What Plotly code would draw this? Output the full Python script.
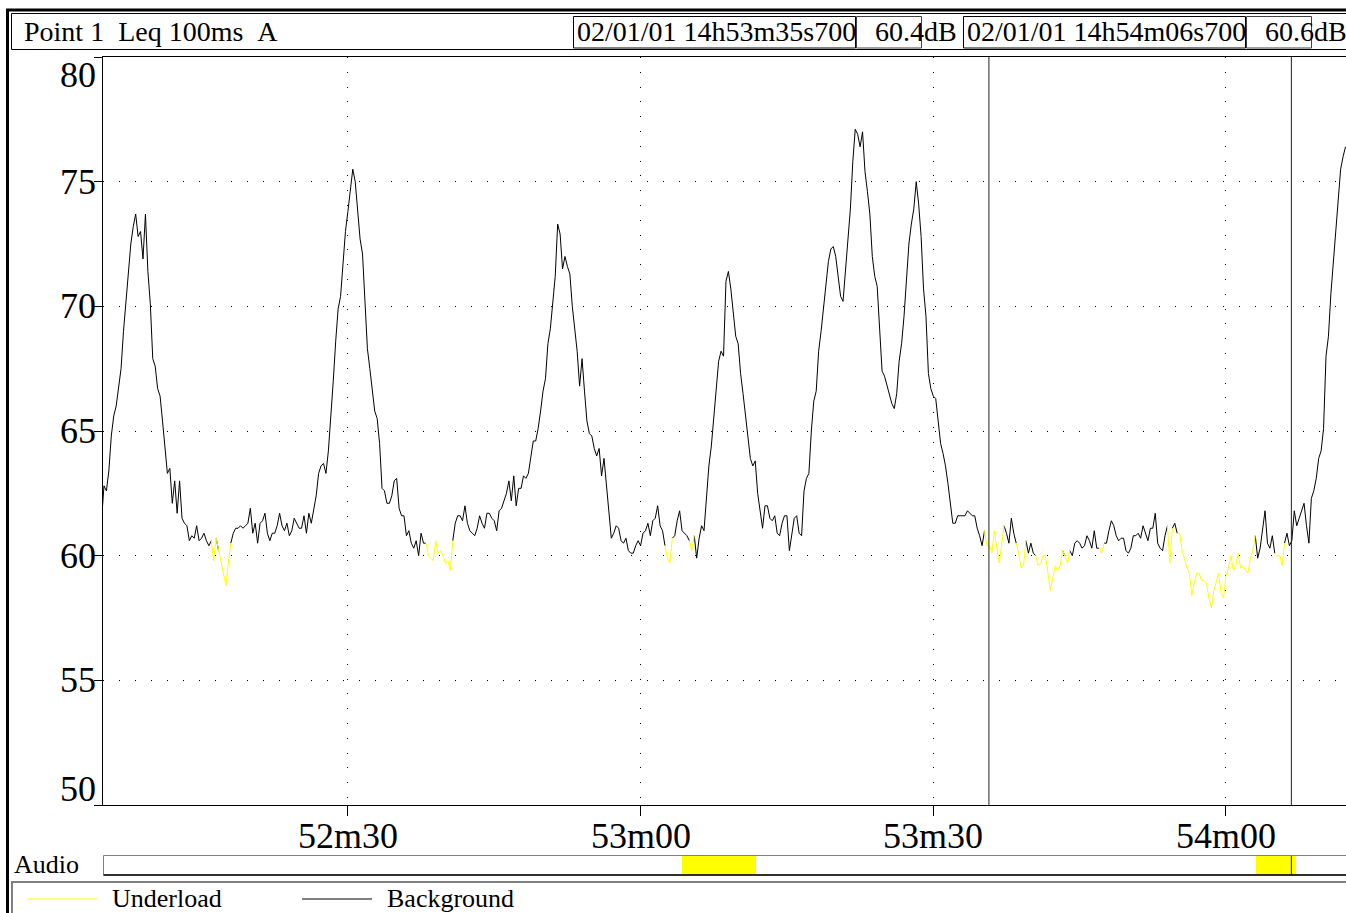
import numpy as np
import plotly.graph_objects as go

# ---------------------------------------------------------------------------
# Leq 100 ms (A) level record, resampled every 0.25 s.
# Time axis is seconds after 14h52m00s.
# ---------------------------------------------------------------------------
T0 = 4.75
DT = 0.25
LEVEL_DB = [
    61.4,
    62.8, 62.6, 63.4, 64.8,   65.6, 66.0, 66.7, 67.5,   69.0, 70.2, 71.4, 72.5,
    73.2, 73.7, 72.8, 73.0,   71.9, 73.7, 71.4, 70.1,   67.9, 67.6, 66.7, 66.4,
    65.4, 64.4, 63.3, 63.5,   62.1, 63.0, 61.7, 63.0,   61.5, 61.3, 61.2, 60.6,
    60.8, 60.7, 61.2, 60.6,   60.7, 60.9, 60.6, 60.4,   60.6, 59.8, 60.7, 60.2,
    59.7, 59.3, 58.8, 59.7,   60.5, 60.9, 61.1, 61.1,   61.2, 61.1, 61.2, 61.3,
    61.9, 60.9, 61.3, 60.5,   61.3, 61.4, 61.7, 60.9,   60.6, 60.9, 60.9, 61.2,
    61.7, 61.2, 61.0, 61.3,   60.8, 61.0, 61.5, 61.3,   61.1, 61.1, 61.6, 60.9,
    61.7, 61.3, 61.9, 62.4,   63.3, 63.6, 63.7, 63.3,   64.2, 65.5, 67.0, 68.6,
    69.9, 70.4, 71.6, 73.0,   73.8, 74.8, 75.5, 75.0,   73.7, 72.7, 72.1, 69.9,
    68.3, 67.5, 66.7, 65.8,   65.5, 64.5, 62.7, 62.6,   62.1, 62.1, 62.4, 63.0,
    63.1, 61.9, 61.6, 61.6,   60.8, 61.0, 60.5, 60.3,   60.6, 60.0, 60.9, 60.5,
    60.5, 60.0, 59.9, 59.8,   60.6, 60.1, 60.2, 60.0,   59.7, 59.8, 59.4, 60.6,
    61.3, 61.6, 61.6, 61.4,   62.0, 61.3, 61.0, 60.9,   60.8, 61.1, 61.6, 61.3,
    61.1, 61.7, 61.7, 61.5,   61.4, 61.0, 61.8, 61.9,   62.2, 62.5, 63.0, 62.2,
    63.2, 62.0, 62.7, 62.7,   63.2, 63.1, 63.3, 63.9,   64.6, 64.6, 65.1, 65.8,
    66.6, 67.1, 68.5, 69.1,   70.1, 71.2, 73.3, 72.9,   71.5, 72.0, 71.6, 71.3,
    70.0, 69.1, 68.2, 66.8,   67.9, 66.6, 65.4, 64.9,   64.8, 64.3, 64.0, 64.3,
    63.2, 63.9, 62.8, 61.9,   60.7, 60.9, 61.2, 61.1,   60.6, 60.5, 60.7, 60.2,
    60.1, 60.1, 60.4, 60.6,   60.4, 60.9, 61.0, 61.3,   60.8, 61.4, 61.5, 62.0,
    61.2, 61.0, 60.4, 59.9,   59.7, 60.7, 60.8, 61.4,   61.8, 61.0, 60.9, 60.8,
    60.6, 60.2, 60.8, 59.9,   60.7, 61.2, 61.0, 62.5,   63.6, 64.4, 65.5, 66.9,
    67.8, 68.2, 68.0, 71.0,   71.4, 70.7, 69.8, 68.8,   68.5, 67.3, 66.5, 65.6,
    64.6, 63.9, 63.6, 63.8,   62.5, 61.8, 61.1, 62.0,   62.0, 61.5, 61.4, 61.6,
    60.9, 60.8, 61.3, 61.6,   61.6, 60.2, 60.9, 61.5,   61.6, 60.9, 60.8, 62.6,
    63.1, 63.3, 65.0, 66.2,   66.6, 68.2, 69.0, 70.0,   71.0, 71.8, 72.3, 72.4,
    72.0, 71.2, 70.4, 70.2,   71.4, 72.4, 73.9, 75.8,   77.1, 76.9, 76.4, 77.0,
    75.4, 74.6, 73.7, 72.0,   71.2, 70.8, 68.9, 67.4,   67.2, 66.8, 66.5, 66.1,
    65.9, 66.5, 67.8, 68.5,   69.6, 71.2, 72.5, 73.3,   73.9, 75.0, 74.1, 72.8,
    70.7, 69.6, 67.3, 66.7,   66.4, 66.3, 65.4, 64.5,   64.1, 63.6, 62.9, 62.0,
    61.3, 61.3, 61.6, 61.6,   61.6, 61.6, 61.8, 61.7,   61.6, 61.6, 61.1, 60.8,
    60.4, 61.0, 60.4, 60.4,   60.1, 61.0, 60.4, 59.7,   60.4, 61.2, 60.9, 60.5,
    61.5, 60.9, 60.5, 60.1,   59.5, 59.6, 60.6, 60.1,   60.5, 60.1, 60.0, 59.6,
    59.7, 60.0, 60.0, 59.3,   58.6, 59.1, 59.6, 59.4,   59.6, 60.2, 60.0, 59.7,
    60.2, 60.0, 60.5, 60.6,   60.5, 60.3, 60.4, 60.8,   60.6, 60.3, 61.0, 60.3,
    60.3, 60.1, 60.5, 60.5,   61.0, 61.4, 61.2, 60.8,   60.6, 60.7, 60.7, 60.2,
    60.1, 60.3, 60.8, 60.8,   60.9, 60.7, 61.2, 60.9,   60.6, 61.1, 61.1, 61.7,
    60.5, 60.3, 60.2, 60.8,   61.2, 59.7, 61.1, 61.3,   60.9, 60.9, 60.2, 59.8,
    59.5, 59.3, 58.4, 58.9,   59.3, 59.3, 59.0, 59.0,   58.9, 58.3, 57.9, 58.6,
    59.0, 59.3, 58.5, 58.3,   59.2, 59.5, 60.0, 59.4,   59.6, 60.1, 59.5, 59.6,
    59.4, 59.3, 59.9, 60.2,   60.8, 59.9, 60.3, 61.1,   61.8, 60.5, 60.3, 60.8,
    60.1, 60.0, 60.0, 59.6,   60.5, 60.9, 60.4, 60.6,   61.8, 61.2, 61.5, 61.8,
    62.1, 61.2, 60.5, 62.3,   62.6, 63.1, 63.9, 64.2,   65.1, 68.0, 68.8, 70.5,
    71.7, 73.0, 74.0, 75.5,   76.0, 76.4,
]

# Time spans (s) flagged as "Underload"
UNDERLOAD_SPANS = [
    (16.1, 16.4), (16.85, 17.95), (38.1, 40.6), (62.6, 63.1), (65.1, 65.35),
    (95.3, 96.1), (96.5, 97.0), (98.7, 99.35), (100.55, 103.1), (103.6, 103.85),
    (107.1, 107.35), (114.2, 114.3), (115.1, 122.9), (125.1, 125.95),
]

# Audio recordings (start, end) in s
AUDIO_SPANS = [(64.2, 71.8), (123.1, 127.2)]

# Cursors (s)
CURSOR_TIMES = [95.7, 126.7]

X_RANGE = [4.9, 132.3]
X_TICKS = [30, 60, 90, 120]
X_TICK_TEXT = ["52m30", "53m00", "53m30", "54m00"]
Y_RANGE = [50, 80]
Y_TICKS = [50, 55, 60, 65, 70, 75, 80]

SERIF = "Liberation Serif, Times New Roman, serif"
YELLOW = "#FFFF00"

W, H = 1346, 913


def px(x):
    return x / W


def py(y):
    return 1 - y / H


def stamp(t):
    total = 52 * 60 + t
    m = int(total // 60)
    s = total - 60 * m
    ms = int(round((s - int(s)) * 1000))
    return f"02/01/01 14h{m:02d}m{int(s):02d}s{ms:03d}"


t = T0 + DT * np.arange(len(LEVEL_DB))
lv = np.array(LEVEL_DB, dtype=float)

under = np.zeros(len(t), dtype=bool)
for a, b in UNDERLOAD_SPANS:
    under |= (t >= a) & (t <= b)
near = under.copy()
near[1:] |= under[:-1]
near[:-1] |= under[1:]

y_bg = np.where(~under, lv, np.nan)
y_ul = np.where(near, lv, np.nan)

fig = go.Figure()

fig.add_trace(go.Scatter(
    x=t, y=y_bg, mode="lines", name="Background",
    line=dict(color="#000000", width=1), connectgaps=False,
    xaxis="x", yaxis="y", showlegend=False, hoverinfo="skip",
))
fig.add_trace(go.Scatter(
    x=t, y=y_ul, mode="lines", name="Underload",
    line=dict(color=YELLOW, width=1), connectgaps=False,
    xaxis="x", yaxis="y", showlegend=False, hoverinfo="skip",
))

# Audio recording strip
fig.add_trace(go.Bar(
    x=[b - a for a, b in AUDIO_SPANS], base=[a for a, b in AUDIO_SPANS],
    y=[0.5] * len(AUDIO_SPANS), width=1, orientation="h",
    marker=dict(color=YELLOW, line=dict(width=0)),
    xaxis="x2", yaxis="y2", showlegend=False, hoverinfo="skip",
))

plot_x = [px(103), 1.0]
plot_y = [py(805), py(57)]
audio_y = [py(875), py(855)]

shapes = []
annotations = []

# outer frame
shapes.append(dict(type="rect", xref="paper", yref="paper",
                   x0=px(7.5), x1=px(1360), y0=py(935), y1=py(10),
                   line=dict(color="#000000", width=3)))
# header box
shapes.append(dict(type="rect", xref="paper", yref="paper",
                   x0=px(11.5), x1=px(1350), y0=py(49.5), y1=py(13.5),
                   line=dict(color="#000000", width=1)))

annotations.append(dict(
    text="Point 1\u00a0\u00a0Leq 100ms\u00a0\u00a0A", xref="paper", yref="paper",
    x=px(22), y=py(32), xanchor="left", yanchor="middle", showarrow=False,
    font=dict(family=SERIF, size=28, color="#000000")))

# cursor read-outs in the header
box_left = [573, 963]
for i, ct in enumerate(CURSOR_TIMES):
    x0 = box_left[i]
    level = float(np.interp(ct, t, lv))
    shapes.append(dict(type="rect", xref="paper", yref="paper",
                       x0=px(x0 + 0.5), x1=px(x0 + 282.5), y0=py(48), y1=py(16.5),
                       line=dict(color="#000000", width=1)))
    shapes.append(dict(type="rect", xref="paper", yref="paper",
                       x0=px(x0 + 283.5), x1=px(x0 + 348.5), y0=py(48), y1=py(16.5),
                       line=dict(color="#404040", width=1)))
    annotations.append(dict(
        text=stamp(ct), xref="paper", yref="paper",
        x=px(x0 + 2), y=py(32), xanchor="left", yanchor="middle", showarrow=False,
        font=dict(family=SERIF, size=28, color="#000000")))
    annotations.append(dict(
        text=f"{level:.1f}dB", xref="paper", yref="paper",
        x=px(x0 + 300), y=py(32), xanchor="left", yanchor="middle", showarrow=False,
        font=dict(family=SERIF, size=28, color="#000000")))
    # cursor line on the level plot
    shapes.append(dict(type="line", xref="x", yref="y domain",
                       x0=ct, x1=ct, y0=0, y1=1,
                       line=dict(color="#202020", width=1)))

# marker of the active cursor inside the audio strip
shapes.append(dict(type="line", xref="x2", yref="y2 domain",
                   x0=CURSOR_TIMES[-1], x1=CURSOR_TIMES[-1], y0=0, y1=1,
                   line=dict(color="#202020", width=1)))

# audio strip outline
shapes.append(dict(type="rect", xref="paper", yref="paper",
                   x0=px(103.5), x1=px(1360), y0=py(875), y1=py(855.5),
                   line=dict(color="#808080", width=1)))
shapes.append(dict(type="line", xref="paper", yref="paper",
                   x0=px(103.5), x1=px(1360), y0=py(875), y1=py(875),
                   line=dict(color="#000000", width=1.5)))
annotations.append(dict(
    text="Audio", xref="paper", yref="paper", x=px(12), y=py(864),
    xanchor="left", yanchor="middle", showarrow=False,
    font=dict(family=SERIF, size=26, color="#000000")))

# legend box
shapes.append(dict(type="rect", xref="paper", yref="paper",
                   x0=px(12), x1=px(1360), y0=py(935), y1=py(882),
                   line=dict(color="#808080", width=2)))
legend_items = [("Underload", YELLOW, 27), ("Background", "#000000", 302)]
for label, color, lx in legend_items:
    shapes.append(dict(type="line", xref="paper", yref="paper",
                       x0=px(lx), x1=px(lx + 70), y0=py(899), y1=py(899),
                       line=dict(color=color, width=1)))
    annotations.append(dict(
        text=label, xref="paper", yref="paper", x=px(lx + 83), y=py(898),
        xanchor="left", yanchor="middle", showarrow=False,
        font=dict(family=SERIF, size=26, color="#000000")))

# y tick labels, kept inside the vertical span of the plot
for v in Y_TICKS:
    anchor, shift = "middle", 0
    if v == Y_RANGE[1]:
        anchor, shift = "top", 4
    elif v == Y_RANGE[0]:
        anchor, shift = "bottom", -6
    annotations.append(dict(
        text=str(v), xref="paper", yref="y", x=px(98), y=v, yshift=shift,
        xanchor="right", yanchor=anchor, showarrow=False,
        font=dict(family=SERIF, size=36, color="#000000")))

# time tick labels under the level plot
for tv, tt in zip(X_TICKS, X_TICK_TEXT):
    annotations.append(dict(
        text=tt, xref="x", yref="paper", x=tv, y=py(836),
        xanchor="center", yanchor="middle", showarrow=False,
        font=dict(family=SERIF, size=36, color="#000000")))

fig.update_layout(
    width=W, height=H,
    margin=dict(l=0, r=0, t=0, b=0),
    paper_bgcolor="#FFFFFF", plot_bgcolor="#FFFFFF",
    template="none",
    showlegend=False,
    bargap=0,
    xaxis=dict(
        domain=plot_x, range=X_RANGE, anchor="y",
        tickmode="array", tickvals=X_TICKS, showticklabels=False,
        ticks="outside", ticklen=10, tickwidth=1, tickcolor="#000000",
        showline=True, linecolor="#000000", linewidth=1, mirror=True,
        showgrid=True, gridcolor="#000000", gridwidth=1, griddash="1px,13.8px",
        zeroline=False, automargin=False,
    ),
    yaxis=dict(
        domain=plot_y, range=Y_RANGE, anchor="x",
        tickmode="array", tickvals=Y_TICKS, showticklabels=False,
        ticks="outside", ticklen=8, tickwidth=1, tickcolor="#000000",
        showline=True, linecolor="#000000", linewidth=1, mirror=True,
        showgrid=True, gridcolor="#000000", gridwidth=1, griddash="1px,15px",
        zeroline=False, automargin=False,
    ),
    xaxis2=dict(
        domain=plot_x, range=X_RANGE, anchor="y2", matches="x",
        showticklabels=False, ticks="", showgrid=False, showline=False,
        zeroline=False, automargin=False,
    ),
    yaxis2=dict(
        domain=audio_y, range=[0, 1], anchor="x2",
        showticklabels=False, ticks="", showgrid=False, showline=False,
        zeroline=False, automargin=False, fixedrange=True,
    ),
    shapes=shapes,
    annotations=annotations,
)

fig.write_html("out.html")
